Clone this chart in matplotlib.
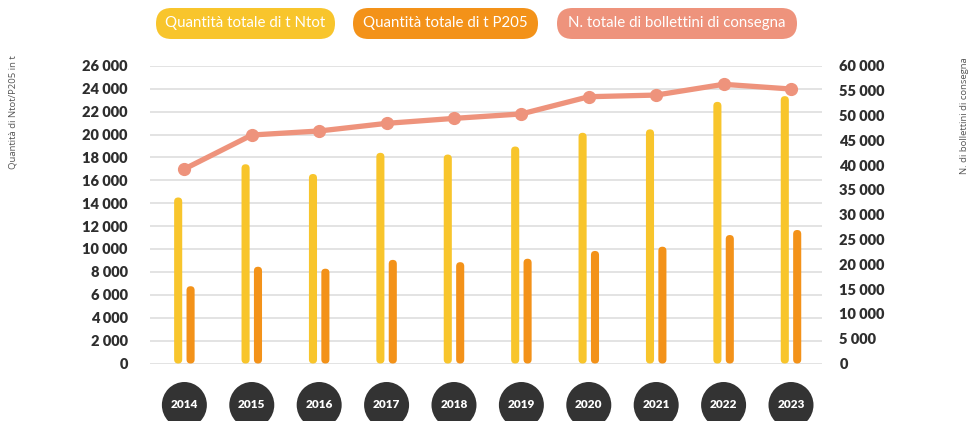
import matplotlib
matplotlib.use("Agg")
import matplotlib.pyplot as plt
from matplotlib.patches import FancyBboxPatch, Ellipse
import matplotlib.ticker as mticker

years = ["2014", "2015", "2016", "2017", "2018", "2019", "2020", "2021", "2022", "2023"]
ntot = [14500, 17400, 16550, 18400, 18250, 18950, 20150, 20450, 22850, 23350]
p2o5 = [6750, 8450, 8280, 9050, 8850, 9150, 9830, 10200, 11220, 11660]
bollettini = [39200, 46050, 46860, 48400, 49400, 50300, 53770, 54100, 56270, 55320]
legend_labels = ["Quantità totale di t Ntot", "Quantità totale di t P205",
                 "N. totale di bollettini di consegna"]
left_label = "Quantità di Ntot/P205 in t"
right_label = "N. di bollettini di consegna"

C_NTOT = "#F8C52C"
C_P2O5 = "#F39219"
C_LINE = "#EE937C"
C_GRID = "#DEDEDE"
C_TEXT = "#2E2E2E"

plt.rcParams['font.family'] = ['Lato', 'DejaVu Sans']

W, H = 971, 421
fig = plt.figure(figsize=(W / 100, H / 100), dpi=100)
x0, x1 = 150, 822
y_top, y_bot = 65.8, 363.5
ax = fig.add_axes([x0 / W, 1 - y_bot / H, (x1 - x0) / W, (y_bot - y_top) / H])
ax.set_xlim(-0.51, 9.46)
ax.set_ylim(0, 26000)

xs = list(range(len(years)))
bw = 0.12
off = 0.092

ppx = (x1 - x0) / (9.46 + 0.51)
ppy = (y_bot - y_top) / 26000
aspect = ppx / ppy

for series, color, sgn in [(ntot, C_NTOT, -1), (p2o5, C_P2O5, 1)]:
    bars = ax.bar([x + sgn * off for x in xs], series, width=bw, color=color)
    for r in bars:
        bx, by, bwid, bh = r.get_x(), r.get_y(), r.get_width(), r.get_height()
        r.remove()
        p = FancyBboxPatch((bx, by), bwid, bh,
                           boxstyle=f"round,pad=0,rounding_size={bwid / 2}",
                           mutation_aspect=aspect, facecolor=color,
                           edgecolor="none", zorder=3)
        ax.add_patch(p)

fmt = mticker.FuncFormatter(lambda v, p: f"{int(v):,}".replace(",", " "))
ax.set_yticks(range(0, 26001, 2000))
ax.yaxis.set_major_formatter(fmt)
ax.grid(axis="y", color=C_GRID, linewidth=1.2, zorder=0)
ax.set_axisbelow(True)
for s in ax.spines.values():
    s.set_visible(False)
ax.tick_params(axis="y", length=0, pad=16, labelsize=10.5, labelcolor=C_TEXT)
for t in ax.get_yticklabels():
    t.set_fontweight("heavy")
ax.set_xticks([])

ax2 = ax.twinx()
ax2.set_ylim(0, 60000)
ax2.set_yticks(range(0, 60001, 5000))
ax2.yaxis.set_major_formatter(fmt)
for s in ax2.spines.values():
    s.set_visible(False)
ax2.tick_params(axis="y", length=0, pad=12.5, labelsize=10.5, labelcolor=C_TEXT)
for t in ax2.get_yticklabels():
    t.set_fontweight("heavy")
ax2.plot(xs, bollettini, color=C_LINE, linewidth=3.8, marker="o",
         markersize=8.5, zorder=5, solid_capstyle="round")

fig.text(13 / W, 1 - 112 / H, left_label, rotation=90, ha="center", va="center",
         fontsize=6.8, color="#555555", family=['Open Sans', 'DejaVu Sans'])
fig.text(964 / W, 1 - 116 / H, right_label, rotation=90, ha="center", va="center",
         fontsize=6.8, color="#555555", family=['Open Sans', 'DejaVu Sans'])

for x, yr in zip(xs, years):
    cx = ax.transData.transform((x, 0))[0] / W
    e = Ellipse((cx, 1 - 405 / H), 45 / W, 46 / H, transform=fig.transFigure,
                facecolor="#333333", edgecolor="none", clip_on=False)
    fig.add_artist(e)
    fig.text(cx, 1 - 405 / H, yr, ha="center", va="center", color="white",
             fontsize=8.5, fontweight="heavy")

pills = [(156, 335, C_NTOT), (353, 538, C_P2O5), (557, 797, C_LINE)]
for (l, r, c), lab in zip(pills, legend_labels):
    hgt = 31
    yc = 23.5
    p = FancyBboxPatch((l / W, 1 - (yc + hgt / 2) / H), (r - l) / W, hgt / H,
                       boxstyle=f"round,pad=0,rounding_size={hgt / 2 / W}",
                       mutation_aspect=W / H, transform=fig.transFigure,
                       facecolor=c, edgecolor="none")
    fig.add_artist(p)
    fig.text((l + r) / 2 / W, 1 - yc / H, lab, ha="center", va="center",
             color="white", fontsize=10.8)

fig.savefig("out.png", dpi=100)
